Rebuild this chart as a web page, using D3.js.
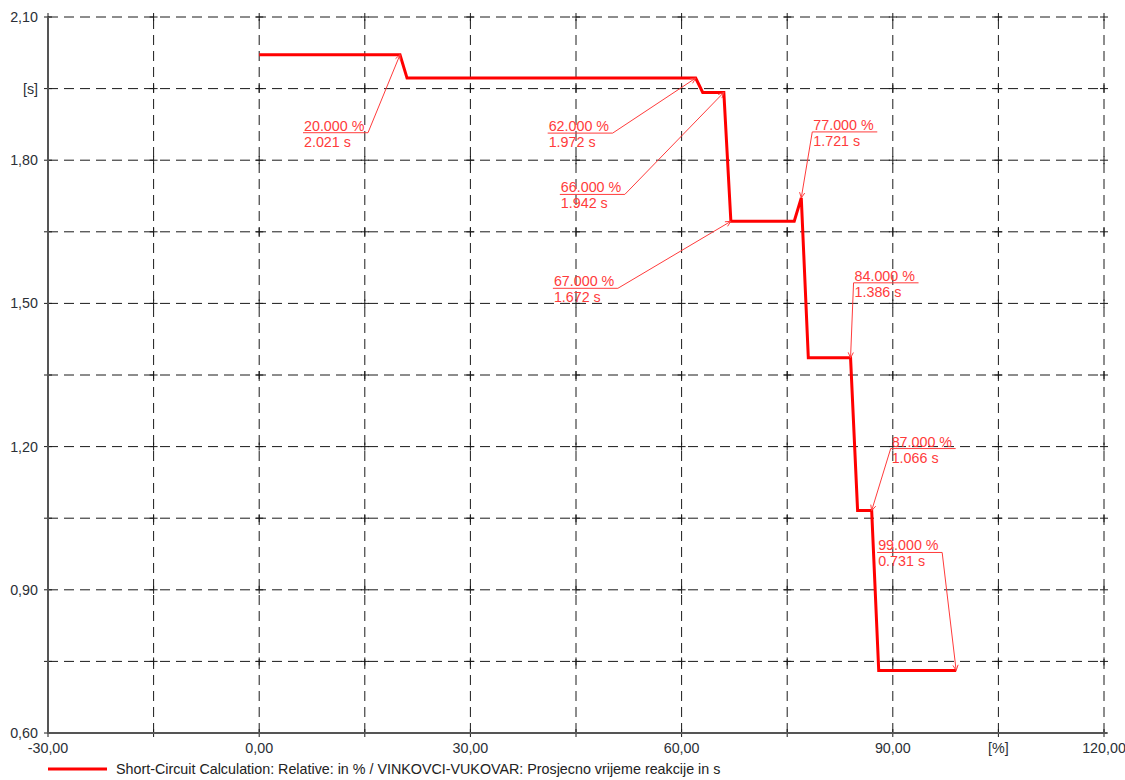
<!DOCTYPE html>
<html><head><meta charset="utf-8">
<script src="https://cdn.jsdelivr.net/npm/d3@7"></script>
<style>body{margin:0;background:#fff;}svg{display:block;font-family:"Liberation Sans",Arial,sans-serif;}</style>
</head><body>
<svg id="chart" width="1125" height="780"></svg>
<script>
// ---- data ----
const curveX = [0, 20, 21, 62, 63, 66, 67, 76, 77, 78, 84, 85, 87, 88, 99];
const curveY = [2.021, 2.021, 1.972, 1.972, 1.942, 1.942, 1.672, 1.672, 1.721, 1.386, 1.386, 1.066, 1.066, 0.731, 0.731];
const annX = [20, 62, 66, 67, 77, 84, 87, 99];
const annY = [2.021, 1.972, 1.942, 1.672, 1.721, 1.386, 1.066, 0.731];
const xTicks = [-30, -15, 0, 15, 30, 45, 60, 75, 90, 105, 120];
const xTickLabels = ["-30,00", "", "0,00", "", "30,00", "", "60,00", "", "90,00", "[%]", "120,00"];
const yTicks = [0.6, 0.75, 0.9, 1.05, 1.2, 1.35, 1.5, 1.65, 1.8, 1.95, 2.1];
const yTickLabels = ["0,60", "", "0,90", "", "1,20", "", "1,50", "", "1,80", "[s]", "2,10"];
const legendLabel = "Short-Circuit Calculation: Relative: in % / VINKOVCI-VUKOVAR: Prosjecno vrijeme reakcije in s";

// ---- layout (label placement offsets in px relative to point) ----
const annLayout = [
  {dx: -97, dy: 78, end: "right"},
  {dx: -148, dy: 55, end: "right"},
  {dx: -164, dy: 102, end: "right"},
  {dx: -178, dy: 67, end: "right"},
  {dx: 11, dy: -66, end: "left"},
  {dx: 3, dy: -75, end: "left"},
  {dx: 19, dy: -62, end: "left"},
  {dx: -79, dy: -118, end: "right"}
];
const ulWidth = 65;
const fs = 14.3;

const svg = d3.select("#chart");
const x = d3.scaleLinear().domain([-30, 120]).range([48, 1104]);
const y = d3.scaleLinear().domain([0.6, 2.1]).range([733, 17]);

const grid = svg.append("g");
grid.selectAll("line.h").data(yTicks.filter(v => v > 0.6)).join("line")
  .attr("x1", x(-30)).attr("x2", x(120))
  .attr("y1", d => y(d)).attr("y2", d => y(d))
  .attr("stroke", "#1a1a1a").attr("stroke-width", 1).attr("stroke-dasharray", "10,6");
grid.selectAll("line.v").data(xTicks.filter(v => v > -30)).join("line")
  .attr("y1", y(0.6)).attr("y2", y(2.1))
  .attr("x1", d => x(d)).attr("x2", d => x(d))
  .attr("stroke", "#1a1a1a").attr("stroke-width", 1).attr("stroke-dasharray", "10,6");
const inter = [];
xTicks.forEach(a => yTicks.forEach(b => inter.push([a, b])));
grid.selectAll("path.c").data(inter).join("path")
  .attr("d", d => `M${x(d[0]) - 4},${y(d[1])}h8M${x(d[0])},${y(d[1]) - 4}v8`)
  .attr("stroke", "#1a1a1a").attr("stroke-width", 1);

svg.append("line").attr("x1", x(-30)).attr("x2", x(-30)).attr("y1", y(2.1)).attr("y2", y(0.6))
  .attr("stroke", "#555").attr("stroke-width", 2);
svg.append("line").attr("x1", x(-30)).attr("x2", x(120) + 3).attr("y1", y(0.6)).attr("y2", y(0.6))
  .attr("stroke", "#555").attr("stroke-width", 2);

svg.append("g").selectAll("text").data(yTicks).join("text")
  .attr("x", 38).attr("y", d => y(d)).attr("dy", "0.35em")
  .attr("text-anchor", "end").attr("font-size", fs).attr("fill", "#2b2f36")
  .text((d, i) => yTickLabels[i]);
svg.append("g").selectAll("text").data(xTicks).join("text")
  .attr("x", d => x(d)).attr("y", 753)
  .attr("text-anchor", "middle").attr("font-size", fs).attr("fill", "#2b2f36")
  .text((d, i) => xTickLabels[i]);

const pts = curveX.map((v, i) => [v, curveY[i]]);
svg.append("path").datum(pts)
  .attr("d", d3.line().x(d => x(d[0])).y(d => y(d[1])))
  .attr("fill", "none").attr("stroke", "#ff0000").attr("stroke-width", 3).attr("stroke-linejoin", "miter");

const annG = svg.append("g");
annX.forEach((ax, i) => {
  const px = x(ax), py = y(annY[i]);
  const L = annLayout[i];
  const lx = px + L.dx, ly = py + L.dy;
  const ex = L.end === "right" ? lx + ulWidth : lx;
  const col = "#ff3b3b";
  annG.append("line").attr("x1", lx).attr("x2", lx + ulWidth).attr("y1", ly).attr("y2", ly)
    .attr("stroke", col).attr("stroke-width", 1);
  annG.append("line").attr("x1", ex).attr("y1", ly).attr("x2", px).attr("y2", py)
    .attr("stroke", col).attr("stroke-width", 1);
  const ang = Math.atan2(ly - py, ex - px);
  [0.45, -0.45].forEach(o => {
    annG.append("line").attr("x1", px).attr("y1", py)
      .attr("x2", px + 6 * Math.cos(ang + o)).attr("y2", py + 6 * Math.sin(ang + o))
      .attr("stroke", col).attr("stroke-width", 1);
  });
  annG.append("text").attr("x", lx + 1).attr("y", ly - 2).attr("font-size", fs).attr("fill", col)
    .text(ax.toFixed(3) + " %");
  annG.append("text").attr("x", lx + 1).attr("y", ly + 14).attr("font-size", fs).attr("fill", col)
    .text(annY[i].toFixed(3) + " s");
});

svg.append("line").attr("x1", 48).attr("x2", 107).attr("y1", 769).attr("y2", 769)
  .attr("stroke", "#ff0000").attr("stroke-width", 3);
svg.append("text").attr("x", 116).attr("y", 774).attr("font-size", fs).attr("fill", "#222")
  .text(legendLabel);
</script>
</body></html>
